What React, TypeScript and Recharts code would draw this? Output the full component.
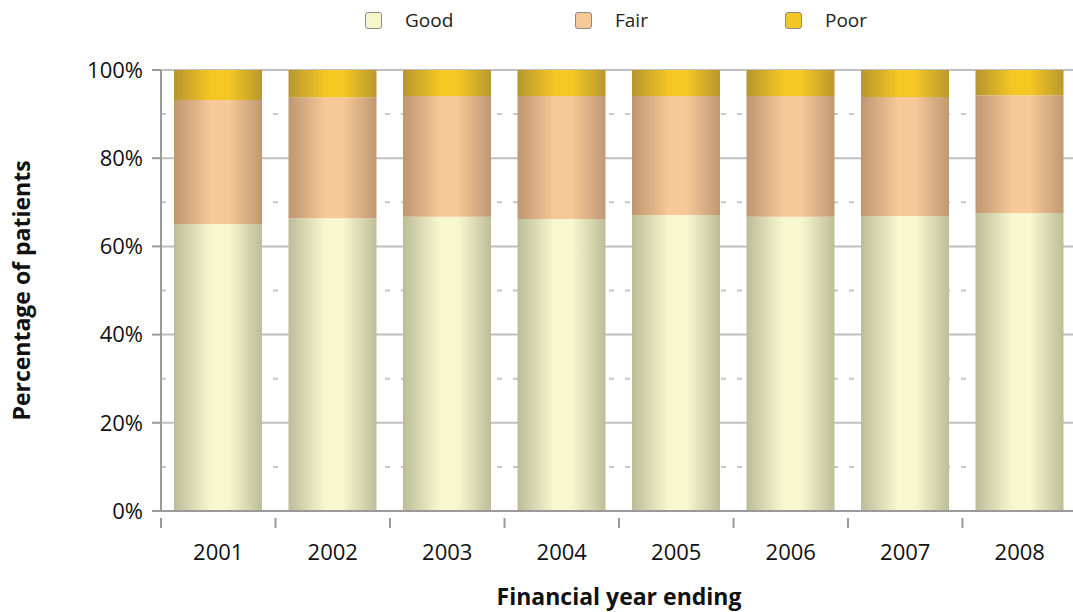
import React from 'react';
import { BarChart, Bar, XAxis, YAxis, CartesianGrid, Legend, Label, ReferenceLine } from 'recharts';

const years = ['2001', '2002', '2003', '2004', '2005', '2006', '2007', '2008'];
const good = [65.1, 66.4, 66.7, 66.2, 67.1, 66.7, 66.9, 67.6];
const fair = [28.1, 27.4, 27.4, 27.9, 27.0, 27.4, 27.0, 26.7];
const poor = [6.8, 6.2, 5.9, 5.9, 5.9, 5.9, 6.1, 5.7];
const majorTicks = [0, 20, 40, 60, 80, 100];
const minorTicks = [10, 30, 50, 70, 90];

const seriesNames = ['Good', 'Fair', 'Poor'];
const legendColors = ['#f6f6cc', '#f6c898', '#f3c623'];

const data = years.map((year, i) => ({ year, good: good[i], fair: fair[i], poor: poor[i] }));

const FONT = '"Open Sans", sans-serif';

const gradients = [
  { id: 'gGood', edgeL: '#bcbc98', mid: '#f8f8d0', edgeR: '#bdbd98' },
  { id: 'gFair', edgeL: '#be9670', mid: '#f7c898', edgeR: '#bf9873' },
  { id: 'gPoor', edgeL: '#b6962e', mid: '#f5c723', edgeR: '#b9982e' },
];

const XTick = (props: any) => {
  const { x, y, payload, width } = props;
  const half = payload && payload.offset ? payload.offset : width / years.length / 2;
  return (
    <g>
      <line x1={x - half} x2={x - half} y1={y - 1} y2={y + 9} stroke="#9a9a9a" strokeWidth={2} />
      <text x={x} y={y + 41} textAnchor="middle" fontSize={22} fontFamily={FONT} fill="#111">
        {payload.value}
      </text>
    </g>
  );
};

const LegendContent = () => (
  <div style={{ display: 'flex', paddingLeft: 365, fontFamily: FONT, fontSize: 19, color: '#222' }}>
    {seriesNames.map((name, i) => (
      <div key={name} style={{ display: 'flex', alignItems: 'center', width: 210 }}>
        <span
          style={{
            display: 'inline-block',
            width: 15,
            height: 15,
            background: legendColors[i],
            border: '1px solid #8a8a8a',
            borderRadius: 3,
            marginRight: 23,
          }}
        />
        <span>{name}</span>
      </div>
    ))}
  </div>
);

export default function App() {
  return (
    <div style={{ position: 'absolute', left: 0, top: 0, width: 1073, height: 612, overflow: 'hidden', background: '#fff' }}>
      <BarChart
        width={1080}
        height={612}
        data={data}
        margin={{ top: 44, right: 3, left: 0, bottom: 0 }}
        barSize={88}
      >
        <defs>
          {gradients.map((g) => (
            <linearGradient key={g.id} id={g.id} x1="0" y1="0" x2="1" y2="0">
              <stop offset="0%" stopColor={g.edgeL} />
              <stop offset="42%" stopColor={g.mid} />
              <stop offset="62%" stopColor={g.mid} />
              <stop offset="100%" stopColor={g.edgeR} />
            </linearGradient>
          ))}
        </defs>
        <CartesianGrid vertical={false} horizontalValues={minorTicks} stroke="#c6c6c6" strokeWidth={2} strokeDasharray="5 11" />
        {majorTicks.slice(1).map((v) => (
          <ReferenceLine key={v} y={v} stroke="#c0c0c0" strokeWidth={2} zIndex={100} />
        ))}
        <Legend
          verticalAlign="top"
          align="left"
          content={<LegendContent />}
          wrapperStyle={{ top: 7, left: 0, width: 1073 }}
        />
        <XAxis
          dataKey="year"
          height={101}
          axisLine={{ stroke: '#9a9a9a', strokeWidth: 2 }}
          tickLine={false}
          tick={<XTick />}
          interval={0}
        >
          <Label
            value="Financial year ending"
            position="insideBottom"
            offset={7}
            style={{ fontFamily: FONT, fontSize: 23, fontWeight: 700, fill: '#111' }}
          />
        </XAxis>
        <YAxis
          width={161}
          domain={[0, 100]}
          ticks={majorTicks}
          tickFormatter={(v: number) => `${v}%`}
          tick={{ fontSize: 22, fontFamily: FONT, fill: '#111' }}
          tickSize={9}
          tickMargin={9}
          axisLine={{ stroke: '#9a9a9a', strokeWidth: 2 }}
          tickLine={{ stroke: '#9a9a9a', strokeWidth: 2 }}
        >
          <Label
            value="Percentage of patients"
            angle={-90}
            position="insideLeft"
            offset={22}
            style={{ textAnchor: 'middle', fontFamily: FONT, fontSize: 23, fontWeight: 700, fill: '#111' }}
          />
        </YAxis>
        <Bar dataKey="good" name="Good" stackId="a" fill="url(#gGood)" isAnimationActive={false} />
        <Bar dataKey="fair" name="Fair" stackId="a" fill="url(#gFair)" isAnimationActive={false} />
        <Bar dataKey="poor" name="Poor" stackId="a" fill="url(#gPoor)" isAnimationActive={false} />
      </BarChart>
    </div>
  );
}
